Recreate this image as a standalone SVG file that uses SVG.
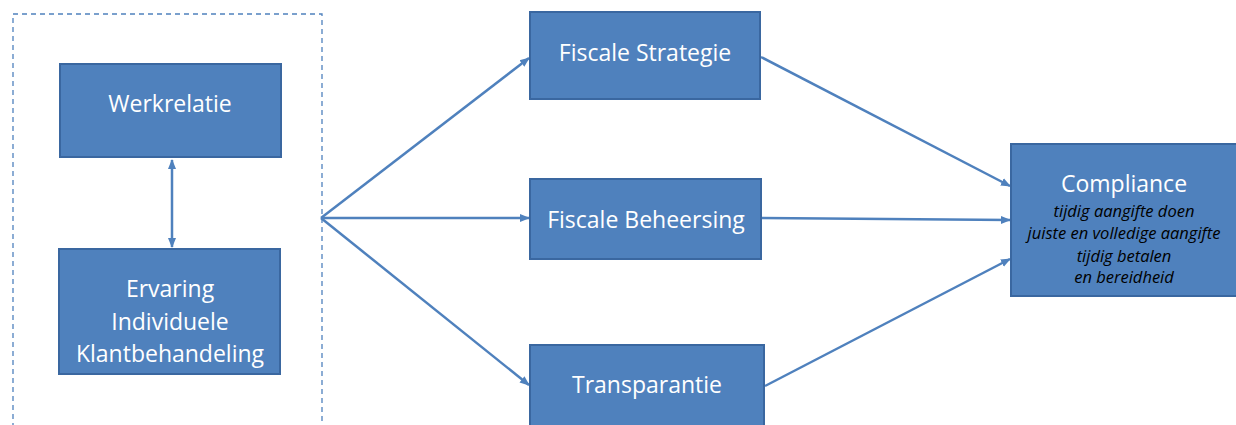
<svg xmlns="http://www.w3.org/2000/svg" width="1236" height="425" viewBox="0 0 1236 425">
<style>
.box{fill:#4F81BD;stroke:#3A67A0;stroke-width:2}
.t{font-family:"Open Sans","Liberation Sans",sans-serif;font-size:23px;fill:#FFFFFF;text-anchor:middle}
.s{font-family:"Open Sans","Liberation Sans",sans-serif;font-size:16.5px;font-style:italic;fill:#000000;text-anchor:middle}
.c{stroke:#4F81BD;stroke-width:2.5;fill:none}
</style>
<defs>
<marker id="ah" viewBox="0 0 10 10" refX="9" refY="5" markerWidth="4" markerHeight="4" orient="auto-start-reverse" markerUnits="strokeWidth">
<path d="M0,1 L10,5 L0,9 z" fill="#4F81BD"/>
</marker>
</defs>
<rect id="container" x="13" y="14" width="309" height="420" fill="none" stroke="#4F81BD" stroke-width="1.3" stroke-dasharray="5,4"/>
<g id="connectors">
<line class="c" x1="172" y1="160" x2="172" y2="247" marker-start="url(#ah)" marker-end="url(#ah)"/>
<line class="c" x1="321" y1="218" x2="529" y2="58" marker-end="url(#ah)"/>
<line class="c" x1="321" y1="218" x2="529" y2="218" marker-end="url(#ah)"/>
<line class="c" x1="321" y1="218" x2="529" y2="385" marker-end="url(#ah)"/>
<line class="c" x1="761" y1="57" x2="1010" y2="186" marker-end="url(#ah)"/>
<line class="c" x1="762" y1="218" x2="1010" y2="220" marker-end="url(#ah)"/>
<line class="c" x1="765" y1="386" x2="1010" y2="259" marker-end="url(#ah)"/>
</g>
<g id="werkrelatie">
<rect class="box" x="60" y="64" width="221" height="93"/>
<text class="t" x="170" y="112">Werkrelatie</text>
</g>
<g id="ervaring">
<rect class="box" x="59" y="249" width="221" height="125"/>
<text class="t" x="170" y="297">Ervaring</text>
<text class="t" x="170" y="330">Individuele</text>
<text class="t" x="170" y="362">Klantbehandeling</text>
</g>
<g id="fiscale-strategie">
<rect class="box" x="530" y="12" width="230" height="87"/>
<text class="t" x="645" y="61">Fiscale Strategie</text>
</g>
<g id="fiscale-beheersing">
<rect class="box" x="530" y="179" width="231" height="80"/>
<text class="t" x="646" y="228">Fiscale Beheersing</text>
</g>
<g id="transparantie">
<rect class="box" x="530" y="345" width="234" height="90"/>
<text class="t" x="647" y="393">Transparantie</text>
</g>
<g id="compliance">
<rect class="box" x="1011" y="144" width="230" height="152"/>
<text class="t" x="1124" y="192">Compliance</text>
<text class="s" x="1124" y="217">tijdig aangifte doen</text>
<text class="s" x="1124" y="239">juiste en volledige aangifte</text>
<text class="s" x="1124" y="262">tijdig betalen</text>
<text class="s" x="1124" y="283">en bereidheid</text>
</g>
</svg>
